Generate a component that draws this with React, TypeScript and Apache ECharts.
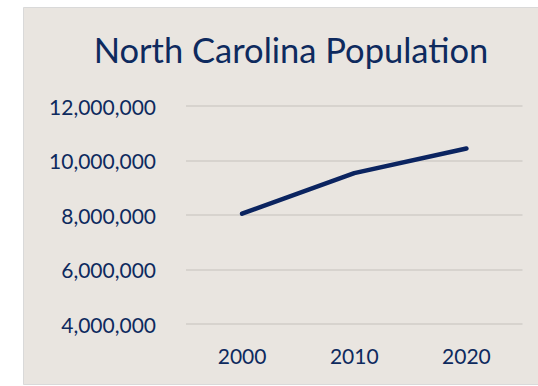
import React, { useEffect, useRef } from "react";
import * as echarts from "echarts";

const years = ["2000", "2010", "2020"];
const population = [8049313, 9535483, 10439388];
const yMin = 4000000;
const yMax = 12000000;
const yStep = 2000000;

export default function App() {
  const ref = useRef<HTMLDivElement>(null);
  useEffect(() => {
    if (!ref.current) return;
    const chart = echarts.init(ref.current, null, { renderer: "svg" });
    const textColor = "#0E2A5E";
    chart.setOption({
      animation: false,
      backgroundColor: "#ffffff",
      graphic: [
        {
          type: "rect",
          z: -10,
          shape: { x: 23.5, y: 7.5, width: 520, height: 377 },
          style: { fill: "#E9E5E0", stroke: "#D9D9D9", lineWidth: 1 },
        },
      ],
      title: {
        text: "North Carolina Population",
        left: 286,
        top: 27,
        textAlign: "center",
        textStyle: {
          fontFamily: "Lato",
          fontSize: 34.5,
          fontWeight: "normal",
          color: textColor,
        },
      },
      grid: { left: 186, right: 15.5, top: 106, bottom: 62 },
      xAxis: {
        type: "category",
        data: years,
        boundaryGap: true,
        axisLine: { show: false },
        axisTick: { show: false },
        axisLabel: {
          margin: 21,
          fontFamily: "Lato",
          fontSize: 21,
          color: textColor,
        },
      },
      yAxis: {
        type: "value",
        min: yMin,
        max: yMax,
        interval: yStep,
        axisLine: { show: false },
        axisTick: { show: false },
        splitLine: { lineStyle: { color: "#D0CDC9", width: 1.5 } },
        axisLabel: {
          margin: 30,
          fontFamily: "Lato",
          fontSize: 21,
          color: textColor,
          formatter: (v: number) => v.toLocaleString("en-US"),
        },
      },
      series: [
        {
          type: "line",
          data: population,
          symbol: "none",
          lineStyle: { color: "#0B2460", width: 4.5, cap: "round" },
        },
      ],
    });
    return () => chart.dispose();
  }, []);
  return (
    <div
      ref={ref}
      style={{ position: "fixed", left: 0, top: 0, width: 538, height: 386 }}
    />
  );
}
